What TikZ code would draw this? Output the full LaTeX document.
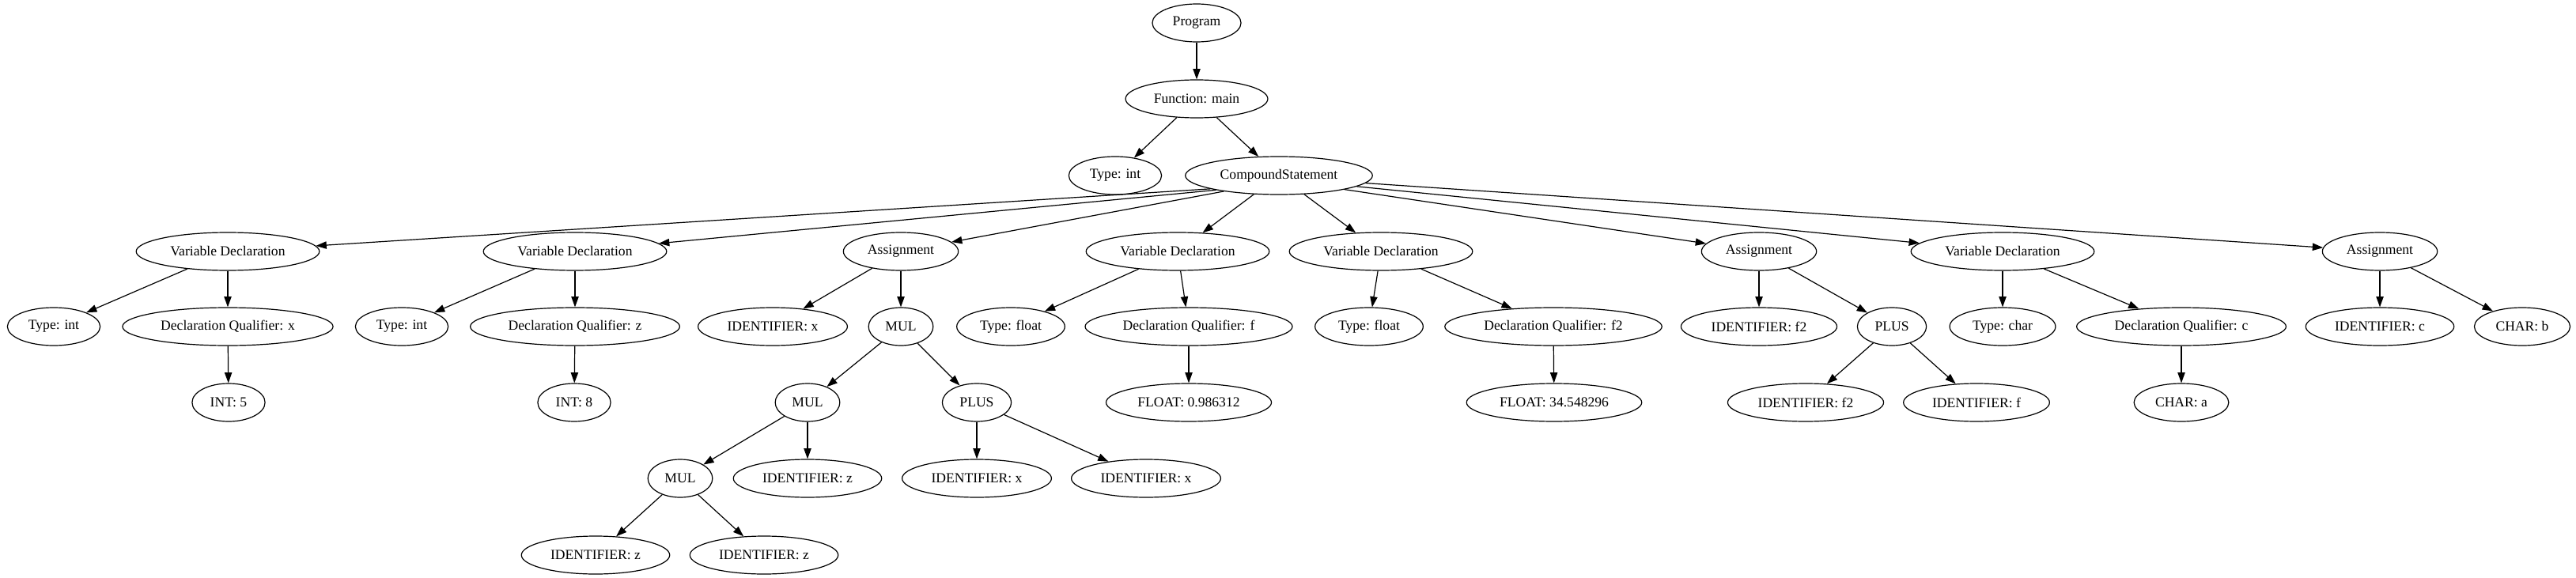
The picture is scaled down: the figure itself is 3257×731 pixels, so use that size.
\documentclass[tikz,border=0pt]{standalone}
\usepackage{fontspec}
\setmainfont{Liberation Serif}
\usetikzlibrary{shapes.geometric,arrows.meta}
\begin{document}
\begin{tikzpicture}[x=0.75pt,y=-0.75pt,
    ast/.style={draw,ellipse,line width=0.9pt,inner xsep=7pt,inner ysep=3pt,
      minimum height=36pt,font=\fontsize{13.2}{16}\selectfont},
    edge/.style={line width=0.9pt,-{Triangle[length=10pt,width=7pt]}}]
      \useasboundingbox (0,0) rectangle (3257,731);
      \node[ast] at (1513,29) (prog) {Program};
      \node[ast] at (1513,125) (func) {Function: main};
      \node[ast] at (1410,222) (ftype) {Type: int};
      \node[ast] at (1617,222) (cs) {CompoundStatement};
      \node[ast] at (288,318) (vd1) {Variable Declaration};
      \node[ast] at (727,318) (vd2) {Variable Declaration};
      \node[ast] at (1139,318) (as1) {Assignment};
      \node[ast] at (1489,318) (vd3) {Variable Declaration};
      \node[ast] at (1746,318) (vd4) {Variable Declaration};
      \node[ast] at (2224,318) (as2) {Assignment};
      \node[ast] at (2532,318) (vd5) {Variable Declaration};
      \node[ast] at (3009,318) (as3) {Assignment};
      \node[ast] at (68,413) (t1) {Type: int};
      \node[ast] at (288,413) (dqx) {Declaration Qualifier: x};
      \node[ast] at (508,413) (t2) {Type: int};
      \node[ast] at (727,413) (dqz) {Declaration Qualifier: z};
      \node[ast] at (977,413) (idx) {IDENTIFIER: x};
      \node[ast] at (1139,413) (mul1) {MUL};
      \node[ast] at (1278,413) (tf1) {Type: float};
      \node[ast] at (1503,413) (dqf) {Declaration Qualifier: f};
      \node[ast] at (1731,413) (tf2) {Type: float};
      \node[ast] at (1964,413) (dqf2) {Declaration Qualifier: f2};
      \node[ast] at (2224,413) (idf2) {IDENTIFIER: f2};
      \node[ast] at (2392,413) (plus1) {PLUS};
      \node[ast] at (2532,413) (tc) {Type: char};
      \node[ast] at (2758,413) (dqc) {Declaration Qualifier: c};
      \node[ast] at (3009,413) (idc) {IDENTIFIER: c};
      \node[ast] at (3189,413) (chb) {CHAR: b};
      \node[ast] at (289,509) (int5) {INT: 5};
      \node[ast] at (726,509) (int8) {INT: 8};
      \node[ast] at (1021,509) (mul2) {MUL};
      \node[ast] at (1235,509) (plus2) {PLUS};
      \node[ast] at (1503,509) (flt1) {FLOAT: 0.986312};
      \node[ast] at (1965,509) (flt2) {FLOAT: 34.548296};
      \node[ast] at (2283,509) (idf2b) {IDENTIFIER: f2};
      \node[ast] at (2499,509) (idf) {IDENTIFIER: f};
      \node[ast] at (2758,509) (cha) {CHAR: a};
      \node[ast] at (860,605) (mul3) {MUL};
      \node[ast] at (1021,605) (idz1) {IDENTIFIER: z};
      \node[ast] at (1235,605) (idx2) {IDENTIFIER: x};
      \node[ast] at (1449,605) (idx3) {IDENTIFIER: x};
      \node[ast] at (753,702) (idz2) {IDENTIFIER: z};
      \node[ast] at (966,702) (idz3) {IDENTIFIER: z};
      \draw[edge] (prog) -- (func);
      \draw[edge] (func) -- (ftype);
      \draw[edge] (func) -- (cs);
      \draw[edge] (cs.191) -- (vd1);
      \draw[edge] (cs.193) -- (vd2);
      \draw[edge] (cs.196) -- (as1);
      \draw[edge] (cs) -- (vd3);
      \draw[edge] (cs) -- (vd4);
      \draw[edge] (cs.348) -- (as2);
      \draw[edge] (cs.352) -- (vd5);
      \draw[edge] (cs.355) -- (as3);
      \draw[edge] (vd1) -- (t1);
      \draw[edge] (vd1) -- (dqx);
      \draw[edge] (dqx) -- (int5);
      \draw[edge] (vd2) -- (t2);
      \draw[edge] (vd2) -- (dqz);
      \draw[edge] (dqz) -- (int8);
      \draw[edge] (as1) -- (idx);
      \draw[edge] (as1) -- (mul1);
      \draw[edge] (mul1) -- (mul2);
      \draw[edge] (mul1) -- (plus2);
      \draw[edge] (mul2) -- (mul3);
      \draw[edge] (mul2) -- (idz1);
      \draw[edge] (mul3) -- (idz2);
      \draw[edge] (mul3) -- (idz3);
      \draw[edge] (plus2) -- (idx2);
      \draw[edge] (plus2) -- (idx3);
      \draw[edge] (vd3) -- (tf1);
      \draw[edge] (vd3) -- (dqf);
      \draw[edge] (dqf) -- (flt1);
      \draw[edge] (vd4) -- (tf2);
      \draw[edge] (vd4) -- (dqf2);
      \draw[edge] (dqf2) -- (flt2);
      \draw[edge] (as2) -- (idf2);
      \draw[edge] (as2) -- (plus1);
      \draw[edge] (plus1) -- (idf2b);
      \draw[edge] (plus1) -- (idf);
      \draw[edge] (vd5) -- (tc);
      \draw[edge] (vd5) -- (dqc);
      \draw[edge] (dqc) -- (cha);
      \draw[edge] (as3) -- (idc);
      \draw[edge] (as3) -- (chb);
    \end{tikzpicture}
\end{document}
